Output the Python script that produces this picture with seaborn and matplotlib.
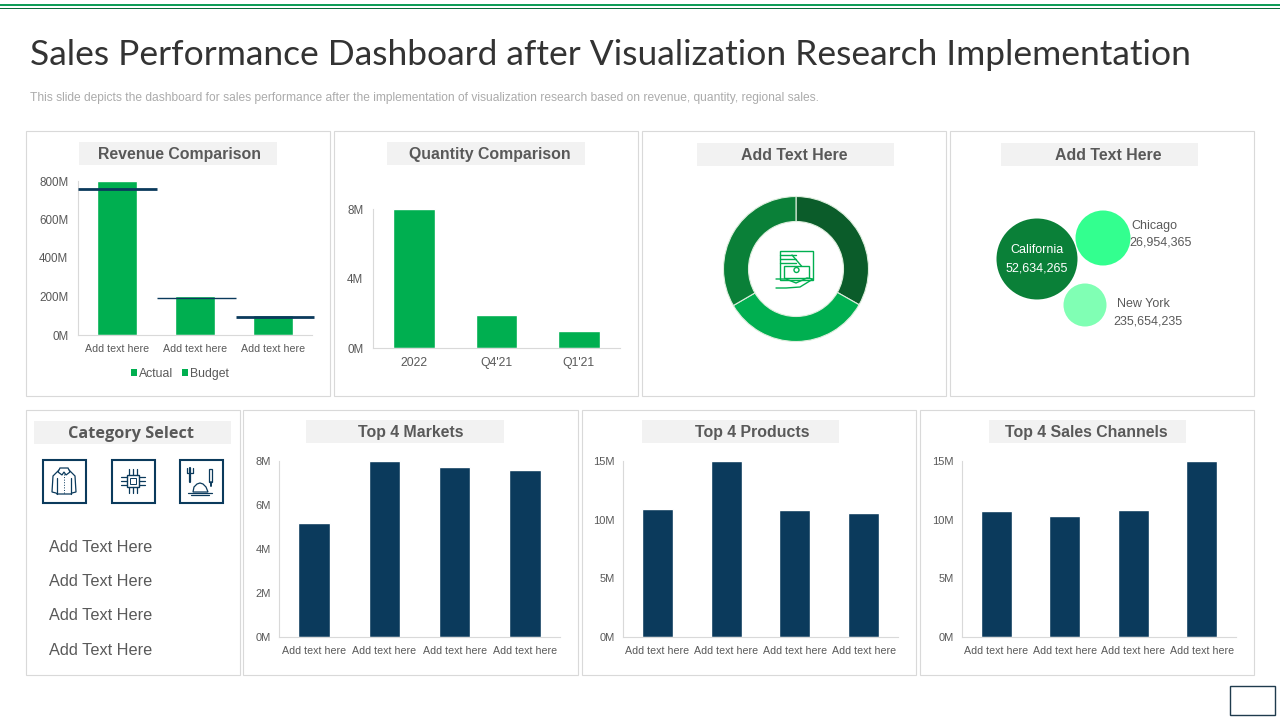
import matplotlib
matplotlib.use('Agg')
import matplotlib.pyplot as plt
import seaborn as sns
from matplotlib.patches import Rectangle, Circle, Polygon
from matplotlib.lines import Line2D

# revenue
rev_labels = ['Add text here'] * 3
rev_actual = [800, 205, 105]
rev_budget = [760, 193, 92]
rev_ticks = [0, 200, 400, 600, 800]

# quantity
qty_labels = ['2022', "Q4'21", "Q1'21"]
qty_values = [8.0, 1.9, 0.97]
qty_ticks = [0, 4, 8]

# donut
donut_shares = [33.2, 33.4, 33.4]

# bubbles
bubble_names = ['California', 'Chicago', 'New York']
bubble_text = ['52,634,265', '26,954,365', '235,654,235']
bubble_x = [1037, 1103, 1085]
bubble_y = [259, 238, 305]
bubble_r = [40.5, 27.5, 21.5]

# bottom row
top_labels = ['Add text here'] * 4
market_values = [5.2, 8.0, 7.75, 7.6]
market_ticks = [0, 2, 4, 6, 8]
product_values = [10.9, 15.0, 10.8, 10.6]
channel_values = [10.7, 10.3, 10.8, 15.0]
sales_ticks = [0, 5, 10, 15]

category_items = ['Add Text Here'] * 4

GREEN = '#00AF50'
NAVY = '#0B3A5C'
GREY = '#595959'
EDGE = '#D9D9D9'

sns.set_theme(style='white')
plt.rcParams['font.family'] = ['Liberation Sans', 'DejaVu Sans']
plt.rcParams['text.color'] = GREY

fig = plt.figure(figsize=(12.8, 7.2), dpi=100, facecolor='white')

# full slide overlay in pixel coordinates
bg = fig.add_axes([0, 0, 1, 1], zorder=0)
bg.set_xlim(0, 1280)
bg.set_ylim(720, 0)
bg.axis('off')


def add_ax(x0, y0, x1, y1):
    # axes from pixel box, y0 is the top edge
    return fig.add_axes([x0 / 1280, 1 - y1 / 720, (x1 - x0) / 1280, (y1 - y0) / 720],
                        zorder=2, facecolor='none')


def panel(x0, y0, x1, y1):
    bg.add_patch(Rectangle((x0, y0), x1 - x0, y1 - y0, fc='white', ec=EDGE, lw=0.8))


def header(x0, y0, x1, y1, text, cx, cy, size=11.4, family='Liberation Sans'):
    bg.add_patch(Rectangle((x0, y0), x1 - x0, y1 - y0, fc='#F2F2F2', ec='none'))
    bg.text(cx, cy, text, ha='center', va='center',
            fontsize=size, fontweight='bold', color=GREY, family=family)


def bar_chart(box, labels, values, ticks, suffix, color, width, tick_size=8.0, cat_size=7.7, y_pad=6):
    ax = add_ax(*box)
    positions = list(range(len(labels)))
    sns.barplot(x=positions, y=values, ax=ax, color=color, width=width, saturation=1)
    ax.set_xlim(-0.5, len(labels) - 0.5)
    ax.set_ylim(0, max(ticks))
    ax.set_xticks(positions)
    ax.set_xticklabels(labels)
    ax.set_yticks(ticks)
    ax.set_yticklabels([f'{t}{suffix}' for t in ticks])
    ax.tick_params(axis='x', length=0, pad=6.7, labelsize=cat_size, labelcolor=GREY)
    ax.tick_params(axis='y', length=0, pad=y_pad, labelsize=tick_size, labelcolor=GREY)
    ax.set_xlabel('')
    ax.set_ylabel('')
    sns.despine(ax=ax, top=True, right=True)
    ax.spines['left'].set_color(EDGE)
    ax.spines['bottom'].set_color(EDGE)
    ax.spines['left'].set_linewidth(0.8)
    ax.spines['bottom'].set_linewidth(0.8)
    return ax


# top rules
bg.add_patch(Rectangle((0, 4), 1280, 2, fc='#0F9D58', ec='none'))
bg.add_patch(Rectangle((0, 7.7), 1280, 1, fc='#0B6B3A', ec='none'))

bg.text(30, 55, 'Sales Performance Dashboard after Visualization Research Implementation',
        ha='left', va='center', fontsize=25.45, color='#333333', family='Lato')
bg.text(30, 98, 'This slide depicts the dashboard for sales performance after the implementation '
        'of visualization research based on revenue, quantity, regional sales.',
        ha='left', va='center', fontsize=8.65, color='#ABABAB')

for box in [(26, 131, 330, 396), (334, 131, 638, 396), (642, 131, 946, 396), (950, 131, 1254, 396),
            (26, 410, 239.5, 675), (243, 410, 578, 675), (582, 410, 916, 675), (920, 410, 1254, 675)]:
    panel(*box)

header(79, 142, 277, 165, 'Revenue Comparison', 179.5, 154)
header(387, 142, 585, 165, 'Quantity Comparison', 489.5, 154)
header(697, 143, 894, 166, 'Add Text Here', 794, 156)
header(1001, 143, 1198, 166, 'Add Text Here', 1108, 156)
header(34, 421, 231, 444, 'Category Select', 131.5, 434.5, size=11.7, family='Open Sans')
header(306, 420, 504, 443, 'Top 4 Markets', 410.5, 432.5)
header(642, 420, 839, 443, 'Top 4 Products', 752.5, 432.5)
header(989, 420, 1186, 443, 'Top 4 Sales Channels', 1086.5, 432.5)

# revenue comparison
rev_ax = bar_chart((78, 181, 312, 335), rev_labels, rev_actual, rev_ticks, 'M', GREEN, 0.51, tick_size=8.4, y_pad=7)
for i, b in enumerate(rev_budget):
    left = -0.5 + i * 1.01
    rev_ax.hlines(b, left, left + 1.01, color=NAVY, lw=[2.0, 1.0, 2.0][i], clip_on=False, zorder=5)
legend_handles = [Rectangle((0, 0), 1, 1, fc=GREEN, ec='none') for _ in range(2)]
leg = rev_ax.legend(legend_handles, ['Actual', 'Budget'], ncols=2, frameon=False, fontsize=8.8,
                    loc='center', bbox_to_anchor=(180 / 1280, 1 - 373.5 / 720),
                    bbox_transform=fig.transFigure, handlelength=0.5, handleheight=0.5,
                    handletextpad=0.2, columnspacing=0.65)
for t in leg.get_texts():
    t.set_color(GREY)

# quantity comparison
qty_ax = bar_chart((373, 209, 620, 348), qty_labels, qty_values, qty_ticks, 'M', GREEN, 0.51,
                   tick_size=8.4, cat_size=8.8, y_pad=7)

# donut
donut_ax = add_ax(716, 189, 876, 349)
donut_ax.pie(donut_shares, colors=['#0B5C2A', GREEN, '#0A8038'], startangle=90, counterclock=False,
             radius=72.5 / 80, wedgeprops=dict(width=25 / 80, edgecolor='#DDEEDD', linewidth=0.8))
donut_ax.set_xlim(-1, 1)
donut_ax.set_ylim(-1, 1)
donut_ax.set_aspect('equal')

# donut icon
ic = dict(color=GREEN, lw=1.0, zorder=3)
bg.add_patch(Rectangle((780, 251), 33, 29, fc='white', ec=GREEN, lw=1.0, zorder=3))
for yy in [255, 259, 263]:
    bg.add_line(Line2D([780, 796], [yy, yy], **ic))
bg.add_line(Line2D([792, 804], [255, 269], **ic))
bg.add_patch(Rectangle((784, 266), 25, 12, fc='white', ec=GREEN, lw=1.0, zorder=3))
bg.add_patch(Circle((796.5, 270), 2.5, fc='white', ec=GREEN, lw=1.0, zorder=4))
bg.add_line(Line2D([776, 786, 796, 807, 813, 800, 786, 776], [279, 279, 283, 278, 279, 287, 288, 288], **ic))

# bubbles
bubble_ax = add_ax(950, 190, 1254, 350)
bubble_ax.set_xlim(950, 1254)
bubble_ax.set_ylim(350, 190)
bubble_ax.axis('off')
# scatter sizes are pt^2, radius given in px
sns.scatterplot(x=bubble_x, y=bubble_y, ax=bubble_ax, hue=bubble_names, legend=False,
                palette=['#0A8038', '#33FF8F', '#80FFB4'],
                size=bubble_names, sizes={n: (2 * r * 0.72) ** 2 for n, r in zip(bubble_names, bubble_r)},
                linewidth=0, clip_on=False)
bubble_ax.text(1037, 250, bubble_names[0], color='white', fontsize=9, ha='center', va='center')
bubble_ax.text(1037, 268, bubble_text[0], color='white', fontsize=9, ha='center', va='center')
bubble_ax.text(1154, 225.5, bubble_names[1], fontsize=9, ha='center', va='center')
bubble_ax.text(1161, 242, bubble_text[1], fontsize=9, ha='center', va='center')
bubble_ax.text(1143, 304, 'New York', fontsize=9, ha='center', va='center')
bubble_ax.text(1148, 321, bubble_text[2], fontsize=9, ha='center', va='center')

# category icons
for x0 in [42, 111, 179]:
    bg.add_patch(Rectangle((x0 + 0.5, 459.5), 43.5, 43, fc='white', ec=NAVY, lw=1.5))
il = dict(color=NAVY, lw=0.9)
# shirt
bg.add_patch(Polygon([(59, 470), (69, 470), (75, 476), (76, 492), (72, 493), (71, 494), (57, 494),
                      (56, 493), (52, 492), (53, 476)], fc='white', ec=NAVY, lw=0.9))
bg.add_patch(Polygon([(60, 468), (68, 468), (70, 472), (66, 475), (64, 472), (62, 475), (58, 472)],
                     fc='white', ec=NAVY, lw=0.9))
bg.add_line(Line2D([64, 64], [474, 494], color=NAVY, lw=0.7, ls=':'))
bg.add_line(Line2D([57, 57], [478, 494], **il))
bg.add_line(Line2D([71, 71], [478, 494], **il))
# chip
bg.add_patch(Rectangle((127, 475), 12, 12, fc='white', ec=NAVY, lw=1.0))
bg.add_patch(Rectangle((130, 478), 6, 6, fc='white', ec=NAVY, lw=0.7))
for k in [-4, 0, 4]:
    bg.add_line(Line2D([133 + k, 133 + k], [469, 475], **il))
    bg.add_line(Line2D([133 + k, 133 + k], [487, 493], **il))
    bg.add_line(Line2D([121, 127], [481 + k, 481 + k], **il))
    bg.add_line(Line2D([139, 145], [481 + k, 481 + k], **il))
# cloche with fork and knife
bg.add_line(Line2D([190, 190, 190], [468, 482, 482], color=NAVY, lw=1.6))
bg.add_line(Line2D([187, 187, 193, 193], [468, 473, 473, 468], **il))
bg.add_patch(Rectangle((209, 469), 3, 13, fc='white', ec=NAVY, lw=0.9))
bg.add_line(Line2D([210.5, 210.5], [482, 486], color=NAVY, lw=1.4))
bg.add_patch(Polygon([(193, 492), (194, 487), (197, 484), (200, 483), (203, 484), (206, 487), (208, 492)],
                     fc='white', ec=NAVY, lw=0.9))
bg.add_line(Line2D([188, 212], [493, 493], **il))
bg.add_line(Line2D([191, 209], [495, 495], **il))

# category list
for text_y, item in zip([547, 581.5, 616, 650.5], category_items):
    bg.text(49, text_y, item, fontsize=11.7, color=GREY, ha='left', va='center')

# bottom charts
bar_chart((279, 461, 560, 637), top_labels, market_values, market_ticks, 'M', NAVY, 0.45)
bar_chart((623, 461, 898, 637), top_labels, product_values, sales_ticks, 'M', NAVY, 0.45)
bar_chart((962, 461, 1236, 637), top_labels, channel_values, sales_ticks, 'M', NAVY, 0.45)

# page number box
bg.add_patch(Rectangle((1229.5, 685.5), 45, 29, fc='white', ec='#1F3B4D', lw=1))

fig.savefig('out.png', dpi=100)
